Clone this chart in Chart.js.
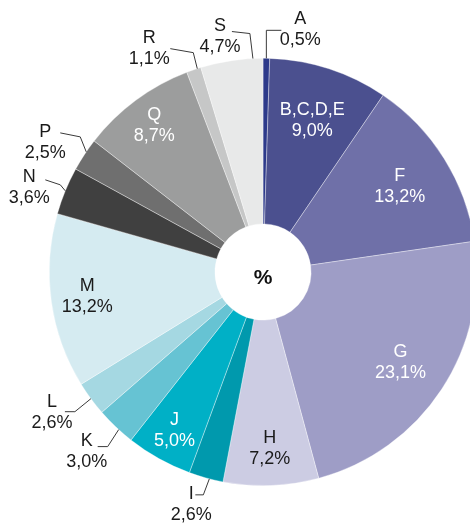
<!DOCTYPE html>
<html>
<head>
<meta charset="utf-8">
<script src="https://cdn.jsdelivr.net/npm/chart.js@4.4.1/dist/chart.umd.min.js"></script>
<style>
  html, body { margin: 0; padding: 0; background: #fff; overflow: hidden; }
  #wrap { width: 490px; height: 523px; position: relative; }
</style>
</head>
<body>
<div id="wrap"><canvas id="chart" width="490" height="523"></canvas></div>
<script>
const sectors = ["A", "B,C,D,E", "F", "G", "H", "I", "J", "K", "L", "M", "N", "P", "Q", "R", "S"];
const shares = [0.5, 9.0, 13.2, 23.1, 7.2, 2.6, 5.0, 3.0, 2.6, 13.2, 3.6, 2.5, 8.7, 1.1, 4.7];
const sliceColors = [
  "#2d3a8a", "#4b508f", "#6f70a8", "#9e9dc6", "#cccce3",
  "#0099ad", "#00b0c6", "#66c3d3", "#a5d8e2", "#d5ebf1",
  "#404040", "#6f6f6f", "#9c9d9d", "#c6c7c7", "#e8e9e9"
];

const FONT = '18px "Liberation Sans", Arial, sans-serif';

// labels drawn inside the slice: radius as fraction of the outer radius, text colour
const insideLabels = {
  1: { r: 0.745, color: "#fff" },
  2: { r: 0.755, color: "#fff" },
  3: { r: 0.77, color: "#fff" },
  4: { r: 0.825, color: "#1a1a1a" },
  6: { r: 0.85, color: "#fff" },
  9: { r: 0.83, color: "#1a1a1a" },
  12: { r: 0.855, color: "#fff" }
};

// labels outside with a leader line; offsets are relative to the point on the rim
const calloutLabels = {
  0: { t: 0.5, elbow: [0, -28], end: [15, -28], text: [34, -29] },
  14: { t: 0.84, elbow: [-3, -25], end: [-21, -27], text: [-33, -22] },
  13: { t: 0.75, elbow: [-4, -16], end: [-27, -20], text: [-48, -20] },
  11: { t: 0.6, elbow: [-6, -15], end: [-26, -19], text: [-41, -9] },
  10: { t: 0.5, elbow: [-5, -6], end: [-20, -11], text: [-36, -3] },
  8: { t: 0.5, elbow: [-16, 13], end: [-26, 13], text: [-39, 14] },
  7: { t: 0.4, elbow: [-11, 17], end: [-21, 17], text: [-32, 22] },
  5: { t: 0.4, elbow: [-6, 16], end: [-14, 16], text: [-18, 26] }
};

function fmt(v) {
  return v.toFixed(1).replace(".", ",") + "%";
}

function drawTwoLines(ctx, cx, cy, a, b) {
  ctx.fillText(a, cx, cy - 10.5);
  ctx.fillText(b, cx, cy + 10.5);
}

const sliceLabels = {
  id: "sliceLabels",
  afterDatasetsDraw(chart) {
    const ctx = chart.ctx;
    const meta = chart.getDatasetMeta(0);
    ctx.save();
    ctx.font = FONT;
    ctx.textAlign = "center";
    ctx.textBaseline = "middle";

    meta.data.forEach((arc, i) => {
      const p = arc.getProps(["x", "y", "startAngle", "endAngle", "outerRadius"], true);
      const label = sectors[i];
      const value = fmt(shares[i]);

      if (insideLabels[i]) {
        const cfg = insideLabels[i];
        const mid = (p.startAngle + p.endAngle) / 2;
        const r = p.outerRadius * cfg.r;
        ctx.fillStyle = cfg.color;
        drawTwoLines(ctx, p.x + Math.cos(mid) * r, p.y + Math.sin(mid) * r, label, value);
        return;
      }

      const c = calloutLabels[i];
      if (!c) return;
      const a = p.startAngle + (p.endAngle - p.startAngle) * c.t;
      const ax = p.x + Math.cos(a) * p.outerRadius;
      const ay = p.y + Math.sin(a) * p.outerRadius;

      ctx.strokeStyle = "#3a3a3a";
      ctx.lineWidth = 1;
      ctx.beginPath();
      ctx.moveTo(ax, ay);
      ctx.lineTo(ax + c.elbow[0], ay + c.elbow[1]);
      ctx.lineTo(ax + c.end[0], ay + c.end[1]);
      ctx.stroke();

      ctx.fillStyle = "#1a1a1a";
      drawTwoLines(ctx, ax + c.text[0], ay + c.text[1], label, value);
    });

    // centre mark
    const first = meta.data[0];
    ctx.font = 'bold 21px "Liberation Sans", Arial, sans-serif';
    ctx.fillStyle = "#111";
    ctx.fillText("%", first.x, first.y + 6);
    ctx.restore();
  }
};

new Chart(document.getElementById("chart"), {
  type: "doughnut",
  data: {
    labels: sectors,
    datasets: [{
      data: shares,
      backgroundColor: sliceColors,
      borderColor: "rgba(255,255,255,0.6)",
      borderWidth: 0.6
    }]
  },
  options: {
    responsive: false,
    animation: false,
    cutout: "22.5%",
    layout: { padding: { left: 49, right: 13, top: 58, bottom: 37 } },
    plugins: {
      legend: { display: false },
      tooltip: { enabled: false }
    }
  },
  plugins: [sliceLabels]
});
</script>
</body>
</html>
